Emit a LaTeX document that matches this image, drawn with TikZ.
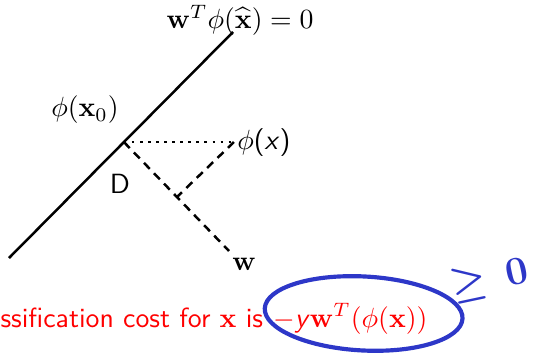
\documentclass[tikz,border=0pt]{standalone}
\usepackage{amsmath,amssymb}
\usetikzlibrary{calc,positioning}
\definecolor{penblue}{RGB}{45,55,200}
\begin{document}
\begin{tikzpicture}[x=0.36pt, y=-0.36pt,
    boundary/.style={line width=0.9pt},
    normal/.style={line width=0.9pt, dash pattern=on 3pt off 2.2pt},
    proj/.style={line width=0.9pt, dotted},
    lbl/.style={inner sep=1pt},
    cost/.style={text=red, font=\sffamily, inner sep=0pt},
    pen/.style={draw=penblue, line width=1.5pt},
  ]
  \useasboundingbox (0,0) rectangle (533,356);

  % Decision boundary
  \coordinate (bot) at (9,258);
  \coordinate (top) at (233,32);
  \draw[boundary] (bot) -- (top);
  \coordinate (x0) at ($(bot)!0.513!(top)$);

  % Point, normal and projections
  \coordinate (px) at ($(x0)+(110,0)$);
  \coordinate (wend) at (229,251);
  \coordinate (foot) at ($(x0)!(px)!(wend)$);
  \draw[proj] (x0) -- (px);
  \draw[normal] (x0) -- (wend);
  \draw[normal] (px) -- (foot);

  % Labels
  \node[lbl] (eq) at (240,20) {$\mathbf{w}^T\phi(\widehat{\mathbf{x}}) = 0$};
  \node[lbl] (x0lbl) at (85,110) {$\phi(\mathbf{x}_0)$};
  \node[lbl, anchor=west] (pxlbl) at (px) {$\phi$\textsf{(\textit{x})}};
  \node[lbl, font=\sffamily] (D) at (120,184) {D};
  \node[lbl, anchor=north west] (wlbl) at ($(wend)+(0,4)$) {$\mathbf{w}$};

  % Cost line
  \node[cost, anchor=base west] (costtxt) at (0,327)
    {ssification cost for $\mathbf{x}$ is};
  \node[cost, anchor=base west] (costval) at ($(costtxt.base east)+(9,0)$)
    {$-$\textsf{\textit{y}}$\mathbf{w}^T(\phi(\mathbf{x}))$};

  % Pen annotation
  \draw[pen, rotate around={-3:(costval.center)}]
    ($(costval.center)+(13,-6)$) ellipse [x radius=99, y radius=37];
  \node[text=penblue, font=\Large\boldmath, rotate=12] (geq) at (490,280)
    {$\geq\,0$};
\end{tikzpicture}
\end{document}
